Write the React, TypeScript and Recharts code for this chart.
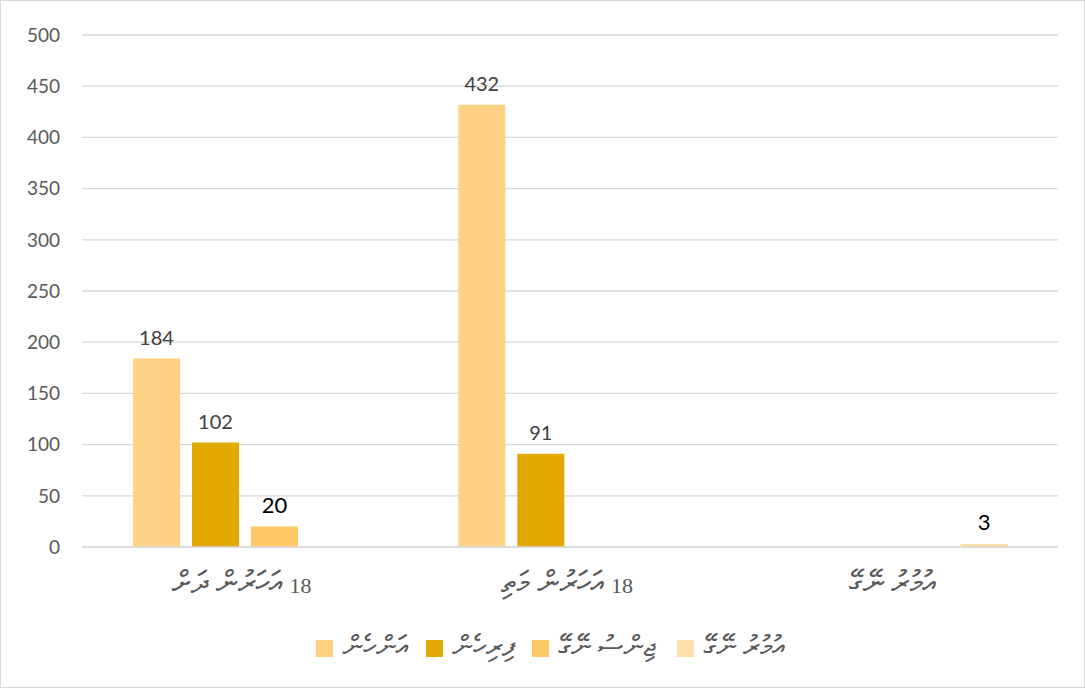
import React from "react";
import { BarChart, Bar, XAxis, YAxis, CartesianGrid, LabelList } from "recharts";

const categoryNumbers = ["18", "18", ""];
const categoryWords = ["އަހަރުން ދަށް", "އަހަރުން މަތި", "އުމުރު ނޭގޭ"];
const categories = ["18 އަހަރުން ދަށް", "18 އަހަރުން މަތި", "އުމުރު ނޭގޭ"];
const female = [184, 432, null];
const male = [102, 91, null];
const genderUnknown = [20, null, null];
const ageUnknown = [null, null, 3];
const seriesNames = ["އަންހެން", "ފިރިހެން", "ޖިންސު ނޭގޭ", "އުމުރު ނޭގޭ"];
const yTicks = [0, 50, 100, 150, 200, 250, 300, 350, 400, 450, 500];

const colors = ["#FFD184", "#E2AA00", "#FFC866", "#FFDEAA"];

const data = categories.map((c, i) => ({
  name: c,
  s0: female[i],
  s1: male[i],
  s2: genderUnknown[i],
  s3: ageUnknown[i],
}));

const thaanaFont = "'MV Boli', Faruma, 'FreeSerif', 'Noto Sans Thaana', serif";
const serifFont = "'Liberation Serif', 'Times New Roman', serif";
const numFont = "Lato, Carlito, Calibri, 'Open Sans', sans-serif";

const CatTick = (props: any) => {
  const { x, y, index } = props;
  const num = categoryNumbers[index];
  const words = categoryWords[index];
  return (
    <text x={x - 3} y={y + 38} textAnchor="middle" fill="#595959">
      {num ? (
        <tspan fontFamily={serifFont} fontSize={22}>
          {"\u200F" + num}
        </tspan>
      ) : null}
      <tspan fontFamily={thaanaFont} fontSize={31}>
        {(num ? " " : "") + words}
      </tspan>
    </text>
  );
};

const LegendBox = () => (
  <div
    style={{
      position: "absolute",
      left: 0,
      top: 628,
      width: 1083,
      boxSizing: "border-box",
      paddingLeft: 16,
      display: "flex",
      justifyContent: "center",
      fontFamily: thaanaFont,
      fontSize: 29,
      color: "#595959",
      lineHeight: "38px",
    }}
  >
    {seriesNames.map((n, i) => (
      <div
        key={i}
        style={{ display: "flex", alignItems: "center", gap: 9, marginLeft: i === 0 ? 0 : i === 3 ? 22 : 18 }}
      >
        <div style={{ width: 17, height: 17, background: colors[i] }} />
        <span>{n}</span>
      </div>
    ))}
  </div>
);

const labelStyles = [
  { fill: "#404040", fontSize: 20 },
  { fill: "#404040", fontSize: 20 },
  { fill: "#000000", fontSize: 22 },
  { fill: "#000000", fontSize: 22 },
];

export default function App() {
  return (
    <div
      style={{
        position: "absolute",
        left: 0,
        top: 0,
        width: 1083,
        height: 686,
        border: "1px solid #D9D9D9",
        background: "#fff",
      }}
    >
      <BarChart
        width={1083}
        height={686}
        data={data}
        margin={{ top: 34, right: 26, left: 0, bottom: 80 }}
        barSize={47}
        barGap={12}
      >
        <CartesianGrid vertical={false} stroke="#D9D9D9" strokeWidth={1.3} />
        <XAxis
          dataKey="name"
          tick={<CatTick />}
          tickLine={false}
          axisLine={{ stroke: "#D9D9D9", strokeWidth: 1.3 }}
          interval={0}
          height={60}
        />
        <YAxis
          width={81}
          domain={[0, 500]}
          ticks={yTicks}
          interval={0}
          tickLine={false}
          axisLine={false}
          tickMargin={16}
          tick={{ fill: "#595959", fontSize: 19, fontFamily: numFont }}
        />
        {[0, 1, 2, 3].map((i) => (
          <Bar
            key={i}
            dataKey={"s" + i}
            name={seriesNames[i]}
            fill={colors[i]}
            isAnimationActive={false}
          >
            <LabelList
              dataKey={"s" + i}
              position="top"
              offset={14}
              fill={labelStyles[i].fill}
              fontSize={labelStyles[i].fontSize}
              fontFamily={numFont}
            />
          </Bar>
        ))}
      </BarChart>
      <LegendBox />
    </div>
  );
}
